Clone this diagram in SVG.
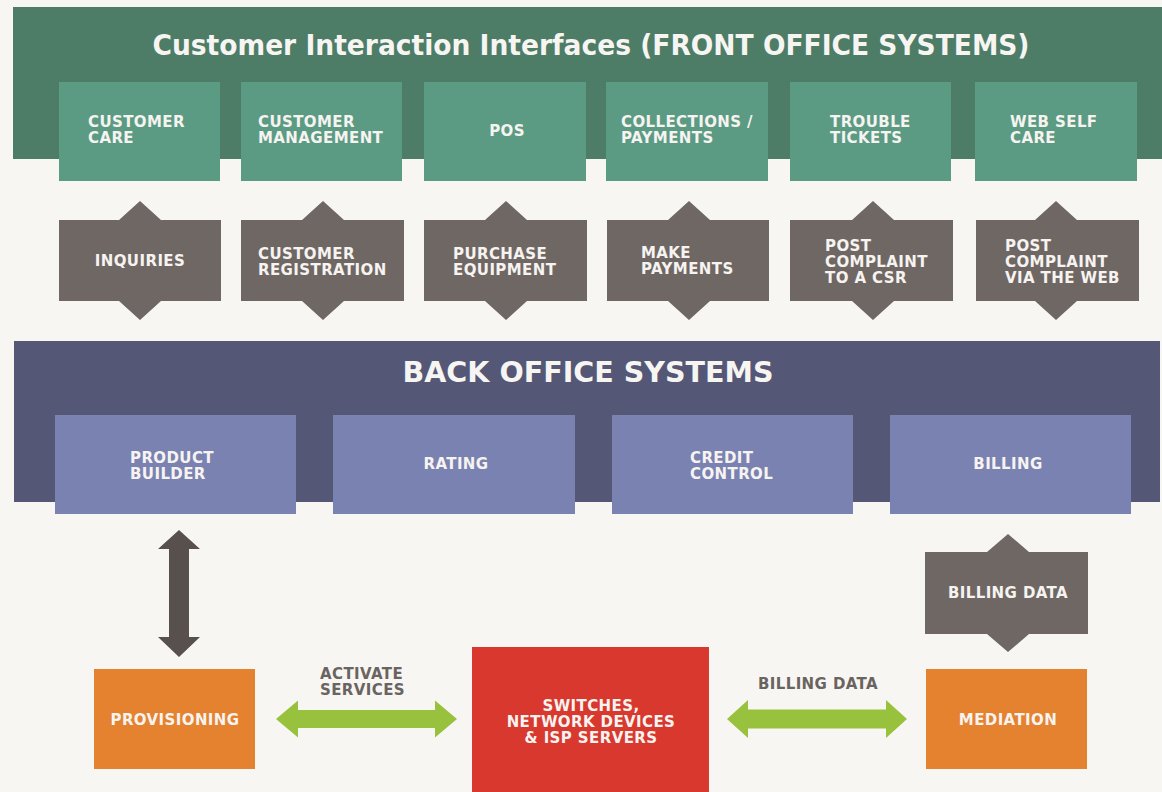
<svg xmlns="http://www.w3.org/2000/svg" width="1162" height="792" viewBox="0 0 1162 792">
<style>
.lbl{font-family:"DejaVu Sans","Liberation Sans",sans-serif;font-weight:bold;font-size:15px;letter-spacing:0.4px;fill:#f6f3f0}
.mid{text-anchor:middle}
.title{font-family:"DejaVu Sans","Liberation Sans",sans-serif;font-weight:bold;font-size:28px;fill:#f7f5f2}
.glbl{font-family:"DejaVu Sans","Liberation Sans",sans-serif;font-weight:bold;font-size:15px;letter-spacing:0.4px;fill:#6a6461}
.fo{fill:#5b9b83}
.gr{fill:#6e6763}
.bo{fill:#7a82b1}
.or{fill:#e5822f}
.lime{fill:#98c23d}
.dark{fill:#57504d}
</style>
<rect x="0" y="0" width="1162" height="792" fill="#f8f6f3"/>

<g id="front-office-band">
<rect x="13" y="7" width="1149" height="152" fill="#4d7c67"/>
<text class="title" x="591" y="55" text-anchor="middle" textLength="877" lengthAdjust="spacingAndGlyphs">Customer Interaction Interfaces (FRONT OFFICE SYSTEMS)</text>
</g>

<g id="customer-care"><rect class="fo" x="59" y="82" width="161" height="99"/>
<text class="lbl" x="88" y="127">CUSTOMER</text><text class="lbl" x="88" y="143">CARE</text></g>
<g id="customer-management"><rect class="fo" x="241" y="82" width="161" height="99"/>
<text class="lbl" x="258" y="127">CUSTOMER</text><text class="lbl" x="258" y="143">MANAGEMENT</text></g>
<g id="pos"><rect class="fo" x="424" y="82" width="162" height="99"/>
<text class="lbl mid" x="507" y="136">POS</text></g>
<g id="collections-payments"><rect class="fo" x="606" y="82" width="162" height="99"/>
<text class="lbl" x="621" y="127">COLLECTIONS /</text><text class="lbl" x="621" y="143">PAYMENTS</text></g>
<g id="trouble-tickets"><rect class="fo" x="790" y="82" width="161" height="99"/>
<text class="lbl" x="830" y="127">TROUBLE</text><text class="lbl" x="830" y="143">TICKETS</text></g>
<g id="web-self-care"><rect class="fo" x="975" y="82" width="162" height="99"/>
<text class="lbl" x="1010" y="127">WEB SELF</text><text class="lbl" x="1010" y="143">CARE</text></g>

<g id="inquiries"><polygon class="gr" points="59,220 119,220 140,201 161,220 221,220 221,301 161,301 140,320 119,301 59,301"/>
<text class="lbl mid" x="140" y="266">INQUIRIES</text></g>
<g id="customer-registration"><polygon class="gr" points="241,220 302,220 323,201 344,220 404,220 404,301 344,301 323,320 302,301 241,301"/>
<text class="lbl" x="258" y="259">CUSTOMER</text><text class="lbl" x="258" y="275">REGISTRATION</text></g>
<g id="purchase-equipment"><polygon class="gr" points="424,220 485,220 506,201 527,220 587,220 587,301 527,301 506,320 485,301 424,301"/>
<text class="lbl" x="453" y="259">PURCHASE</text><text class="lbl" x="453" y="275">EQUIPMENT</text></g>
<g id="make-payments"><polygon class="gr" points="607,220 668,220 689,201 710,220 769,220 769,301 710,301 689,320 668,301 607,301"/>
<text class="lbl" x="641" y="258">MAKE</text><text class="lbl" x="641" y="274">PAYMENTS</text></g>
<g id="post-complaint-csr"><polygon class="gr" points="790,220 852,220 873,201 894,220 953,220 953,301 894,301 873,320 852,301 790,301"/>
<text class="lbl" x="825" y="251">POST</text><text class="lbl" x="825" y="267">COMPLAINT</text><text class="lbl" x="825" y="283">TO A CSR</text></g>
<g id="post-complaint-web"><polygon class="gr" points="976,220 1035,220 1056,201 1077,220 1139,220 1139,301 1077,301 1056,320 1035,301 976,301"/>
<text class="lbl" x="1005" y="251">POST</text><text class="lbl" x="1005" y="267">COMPLAINT</text><text class="lbl" x="1005" y="283">VIA THE WEB</text></g>

<g id="back-office-band">
<rect x="14" y="341" width="1146" height="161" fill="#545876"/>
<text class="title" x="588" y="382" text-anchor="middle" textLength="371" lengthAdjust="spacingAndGlyphs">BACK OFFICE SYSTEMS</text>
</g>

<g id="product-builder"><rect class="bo" x="55" y="415" width="241" height="99"/>
<text class="lbl" x="130" y="463">PRODUCT</text><text class="lbl" x="130" y="479">BUILDER</text></g>
<g id="rating"><rect class="bo" x="333" y="415" width="242" height="99"/>
<text class="lbl mid" x="456" y="469">RATING</text></g>
<g id="credit-control"><rect class="bo" x="612" y="415" width="241" height="99"/>
<text class="lbl" x="690" y="463">CREDIT</text><text class="lbl" x="690" y="479">CONTROL</text></g>
<g id="billing"><rect class="bo" x="890" y="415" width="241" height="99"/>
<text class="lbl mid" x="1008" y="469">BILLING</text></g>

<g id="billing-data-flow"><polygon class="gr" points="925,552 987,552 1008,534 1029,552 1088,552 1088,634 1029,634 1008,652 987,634 925,634"/>
<text class="lbl mid" x="1008" y="598">BILLING DATA</text></g>

<g id="provisioning"><rect class="or" x="94" y="669" width="161" height="100"/>
<text class="lbl mid" x="175" y="725">PROVISIONING</text></g>
<g id="network"><rect x="472" y="647" width="237" height="145" fill="#d9382e"/>
<text class="lbl mid" x="591" y="711">SWITCHES,</text>
<text class="lbl mid" x="591" y="727">NETWORK DEVICES</text>
<text class="lbl mid" x="591" y="743">&amp; ISP SERVERS</text></g>
<g id="mediation"><rect class="or" x="926" y="669" width="161" height="100"/>
<text class="lbl mid" x="1008" y="725">MEDIATION</text></g>

<g id="connectors">
<polygon class="dark" points="179,530 200,549 189,549 189,637 200,637 179,657 158,637 169,637 169,549 158,549"/>
<polygon class="lime" points="276,719 298,700.5 298,710 435,710 435,700.5 457,719 435,737.5 435,728 298,728 298,737.5"/>
<text class="glbl" x="320" y="679">ACTIVATE</text><text class="glbl" x="320" y="695">SERVICES</text>
<polygon class="lime" points="727,719 748,700 748,709.5 886,709.5 886,700 907,719 886,738 886,728.5 748,728.5 748,738"/>
<text class="glbl mid" x="818" y="689">BILLING DATA</text>
</g>
</svg>
